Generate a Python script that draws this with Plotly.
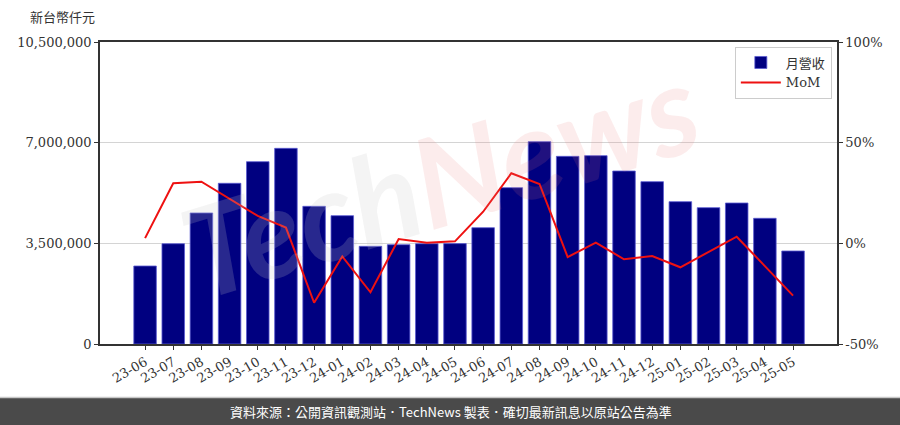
import plotly.graph_objects as go

months = ["23-06", "23-07", "23-08", "23-09", "23-10", "23-11", "23-12",
          "24-01", "24-02", "24-03", "24-04", "24-05", "24-06", "24-07",
          "24-08", "24-09", "24-10", "24-11", "24-12", "25-01", "25-02",
          "25-03", "25-04", "25-05"]
revenue = [2712000, 3487000, 4555000, 5587000, 6339000, 6803000, 4787000,
           4462000, 3396000, 3453000, 3487000, 3490000, 4044000, 5435000,
           7035000, 6525000, 6548000, 6015000, 5644000, 4949000, 4740000,
           4902000, 4370000, 3234000]
mom = [2.6, 29.8, 30.6, 22.2, 13.6, 7.8, -29.5, -6.5, -24.3, 2.1, 0.3, 1.0,
       15.7, 34.8, 29.5, -6.8, 0.3, -7.9, -6.3, -11.9, -4.2, 3.3, -11.3, -26.0]
left_ticks = [0, 3500000, 7000000, 10500000]
right_ticks = [-50, 0, 50, 100]

idx = list(range(len(months)))
serif = "DejaVu Serif"
txtc = "#333333"
fs = 13

fig = go.Figure()
fig.add_trace(go.Bar(
    x=idx, y=revenue, name="月營收", width=0.8,
    marker=dict(color="#000080", line=dict(color="#5a5ad0", width=0.8)),
    yaxis="y"))
fig.add_trace(go.Scatter(
    x=idx, y=mom, name="MoM", mode="lines",
    line=dict(color="#ee1111", width=2), yaxis="y2"))

fig.update_layout(
    width=900, height=425,
    margin=dict(l=100, r=63, t=42, b=81),
    plot_bgcolor="white", paper_bgcolor="white",
    font=dict(family=serif, size=fs, color=txtc),
    showlegend=True,
    legend=dict(x=0.993, xanchor="right", y=0.985, yanchor="top",
                bgcolor="white", bordercolor="#cccccc", borderwidth=1,
                font=dict(family="DejaVu Serif, Noto Sans CJK TC", size=fs, color=txtc),
                itemwidth=40, tracegroupgap=0),
    xaxis=dict(range=[-1.6, 24.56], tickmode="array", tickvals=idx, ticktext=months,
               tickangle=-30, ticks="outside", ticklen=4, tickcolor="#333333",
               showline=True, linecolor="#333333", linewidth=1.5, mirror=True,
               showgrid=False, zeroline=False,
               tickfont=dict(family=serif, size=fs, color=txtc)),
    yaxis=dict(range=[0, 10500000], tickmode="array", tickvals=left_ticks,
               ticktext=[f"{v:,}" for v in left_ticks],
               ticks="outside", ticklen=4, tickcolor="#333333",
               showline=True, linecolor="#333333", linewidth=1.5, mirror=True,
               showgrid=True, gridcolor="#d4d4d4", gridwidth=1, zeroline=False,
               tickfont=dict(family=serif, size=fs, color=txtc)),
    yaxis2=dict(range=[-50, 100], tickmode="array", tickvals=right_ticks,
                ticktext=[f"{v}%" for v in right_ticks],
                overlaying="y", side="right",
                ticks="outside", ticklen=4, tickcolor="#333333",
                showline=True, linecolor="#333333", linewidth=1.5,
                showgrid=False, zeroline=False,
                tickfont=dict(family=serif, size=fs, color=txtc)),
    bargap=0.2,
)

# watermark
fig.add_annotation(
    xref="paper", yref="paper", x=0.46, y=0.55,
    text="<span style='color:rgba(200,200,200,0.2)'>Tech</span><span style='color:rgba(235,120,120,0.14)'>News</span>",
    showarrow=False, textangle=-17,
    font=dict(family="Lato", size=125, style="italic", weight="bold"),
)

# y-axis unit label
fig.add_annotation(
    xref="paper", yref="paper", x=-0.051, y=1.083, xanchor="center", yanchor="middle",
    text="新台幣仟元", showarrow=False,
    font=dict(family="Noto Sans CJK TC", size=13, color=txtc))

# footer banner
fig.add_shape(type="rect", xref="paper", yref="paper",
              x0=-0.2, x1=1.2, y0=-0.32, y1=-0.179,
              fillcolor="#4a4a4a", line=dict(width=0), layer="above")
fig.add_shape(type="line", xref="paper", yref="paper",
              x0=-0.2, x1=1.2, y0=-0.177, y1=-0.177,
              line=dict(color="#c8c8c8", width=1.5), layer="above")
fig.add_annotation(
    xref="paper", yref="paper", x=0.476, y=-0.225, xanchor="center", yanchor="middle",
    text="資料來源：公開資訊觀測站．TechNews 製表．確切最新訊息以原站公告為準",
    showarrow=False,
    font=dict(family="Noto Sans CJK TC", size=13, color="white"))

fig.write_html("out.html", config={"displayModeBar": False},
               post_script="document.body.style.margin='0px';document.body.style.overflow='hidden';")
